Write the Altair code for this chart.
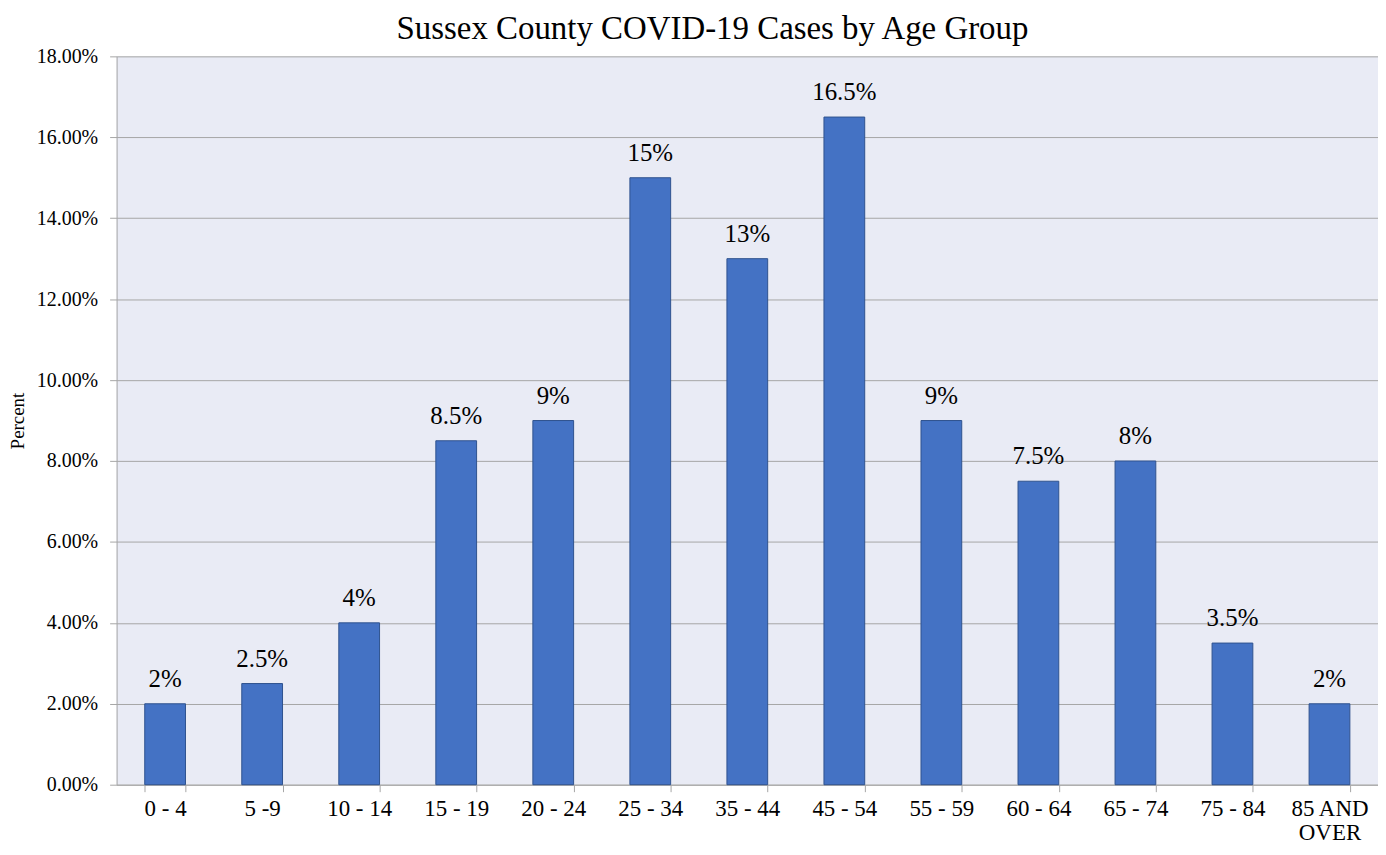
import altair as alt
import pandas as pd

groups = ["0 - 4", "5 -9", "10 - 14", "15 - 19", "20 - 24", "25 - 34", "35 - 44",
          "45 - 54", "55 - 59", "60 - 64", "65 - 74", "75 - 84", "85 AND OVER"]
values = [2, 2.5, 4, 8.5, 9, 15, 13, 16.5, 9, 7.5, 8, 3.5, 2]
labels = ["2%", "2.5%", "4%", "8.5%", "9%", "15%", "13%", "16.5%", "9%", "7.5%", "8%", "3.5%", "2%"]

df = pd.DataFrame({"group": groups, "pct": [v / 100 for v in values], "label": labels})

FONT = "'Liberation Serif', 'Times New Roman', serif"
GRAY = "#A6A6A6"

x = alt.X("group:N", sort=groups, title=None,
          scale=alt.Scale(paddingInner=0.58, paddingOuter=0.29),
          axis=alt.Axis(labelAngle=0, labelFontSize=23, labelFont=FONT, labelColor="black",
                        labelPadding=6, labelLineHeight=24, tickSize=7, tickColor=GRAY,
                        domainColor=GRAY, tickBand="extent",
                        labelExpr="datum.value == '85 AND OVER' ? ['85 AND', 'OVER'] : datum.label"))

y = alt.Y("pct:Q", title="Percent",
          scale=alt.Scale(domain=[0, 0.18]),
          axis=alt.Axis(format=".2%", values=[i / 100 for i in range(0, 19, 2)],
                        labelFontSize=20, labelFont=FONT, labelColor="black", labelPadding=12,
                        titleFont=FONT, titleFontSize=19, titleFontWeight="normal",
                        titleColor="black", titlePadding=9,
                        tickSize=7, tickColor=GRAY, domainColor=GRAY,
                        gridColor=GRAY, gridWidth=1))

bars = alt.Chart(df).mark_bar(color="#4472C4", stroke="#2F528F", strokeWidth=1).encode(x=x, y=y)
text = alt.Chart(df).mark_text(baseline="alphabetic", dy=-17, fontSize=25, font=FONT,
                               color="black").encode(x=x, y=y, text="label:N")

chart = (bars + text).properties(
    width=1266, height=731, background="white",
    padding={"top": 4, "left": 0, "right": 0, "bottom": 0},
    title=alt.TitleParams("Sussex County COVID-19 Cases by Age Group", font=FONT,
                          fontSize=33, fontWeight="normal", color="black", offset=0, dx=-35),
).configure_view(fill="#E9EBF5", strokeWidth=0)

chart.save("out.html", embed_options={"renderer": "svg", "actions": False})
